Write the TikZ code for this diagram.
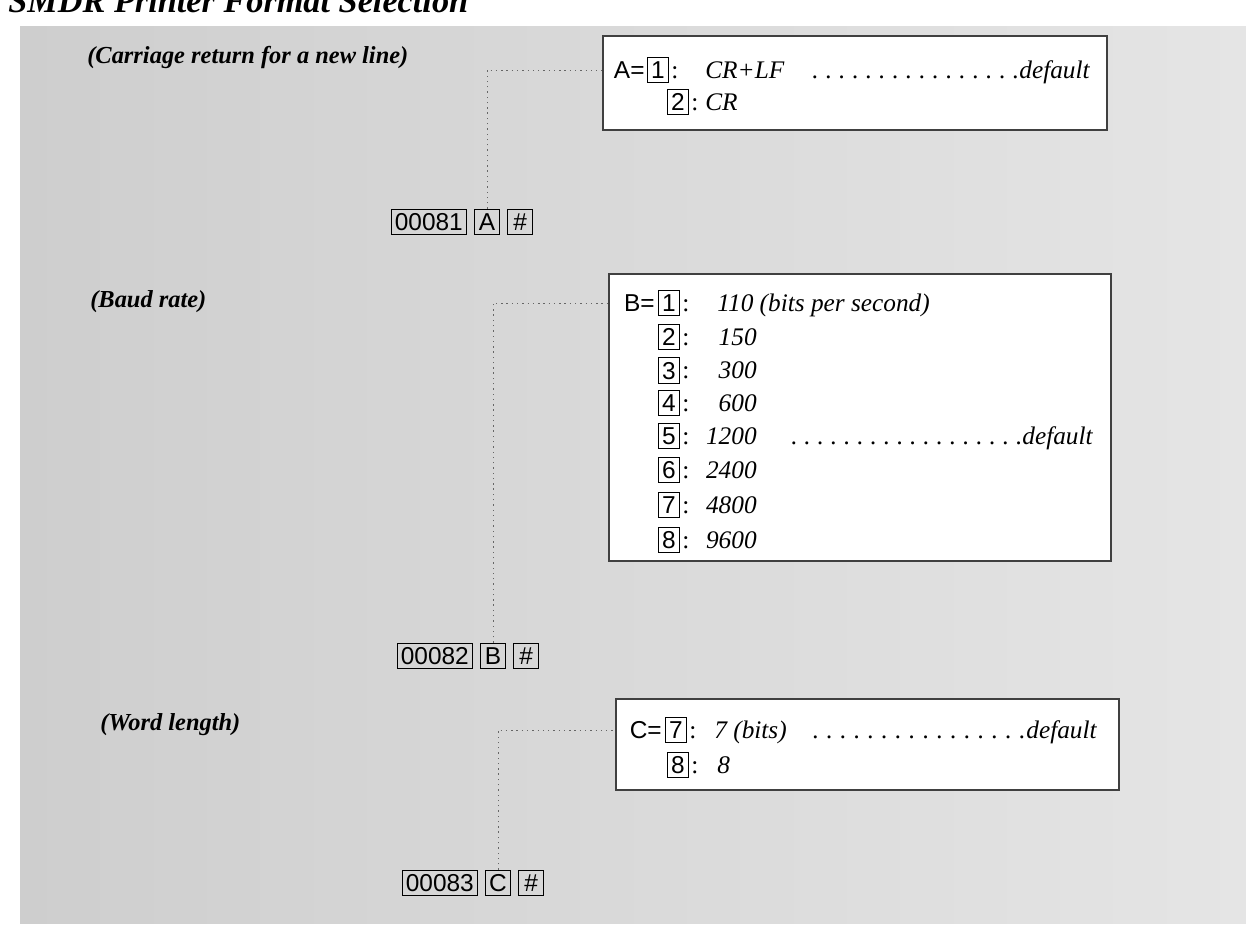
\documentclass[tikz,border=0pt]{standalone}
\usepackage{fontspec}
\setmainfont{Liberation Serif}
\setsansfont{Liberation Sans}
\usepackage{tikz}
\usetikzlibrary{positioning}
\definecolor{Paper}{RGB}{229, 229, 229}
\definecolor{PaperDark}{RGB}{206, 206, 206}
\newcommand{\dotrule}[1]{\makebox[#1]{\xleaders\hbox to 7.5pt{\hss.}\hfill}}

\begin{document}
\begin{tikzpicture}[
    heading/.style={anchor=base west, inner sep=0pt, font=\fontsize{13.9}{16}\selectfont\bfseries\itshape},
    optbox/.style={rectangle, draw=black!75, line width=0.6pt, fill=white},
    keybox/.style={rectangle, draw=black, line width=0.7pt, font=\sffamily\fontsize{13.9}{16}\selectfont, text height=10pt, text depth=0pt, inner xsep=2pt, inner ysep=2.2pt, minimum width=0.5cm},
    digit/.style={keybox, minimum width=0.43cm},
    letter/.style={inner sep=0pt, font=\sffamily\fontsize{13.9}{16}\selectfont, text height=10pt, text depth=0pt},
    val/.style={anchor=west, inner sep=0pt, text height=9.5pt, text depth=0pt, font=\fontsize{14.4}{17}\selectfont\itshape},
    colon/.style={val, font=\fontsize{14.4}{17}\selectfont},
    link/.style={draw=black!60, line width=0.5pt, dash pattern=on 0.8pt off 2.2pt}
]
    \useasboundingbox (0,0) rectangle (24.92,-18.68);
    % Page background and title
    \shade[left color=PaperDark, right color=Paper] (0.40,-0.54) rectangle (24.92,-18.46);
    \node[anchor=base west, inner sep=0pt, font=\fontsize{19.5}{22}\selectfont\bfseries\itshape] (title) at (0.16,-0.26) {SMDR Printer Format Selection};

    % Headings
    \node[heading] (capA) at (1.74,-1.28) {(Carriage return for a new line)};
    \node[heading] (capB) at (1.80,-6.14) {(Baud rate)};
    \node[heading] (capC) at (2.00,-14.60) {(Word length)};

    % Option boxes
    \node[optbox, minimum width=10.08cm, minimum height=1.88cm] (optA) at (17.10,-1.66) {};
    \node[optbox, minimum width=10.04cm, minimum height=5.74cm] (optB) at (17.20,-8.35) {};
    \node[optbox, minimum width=10.06cm, minimum height=1.82cm] (optC) at (17.35,-14.89) {};

    % Box A: carriage return
    \node[digit] (a1) at (13.16,-1.40) {1};
    \node[letter, left=1pt of a1] (eqA) {A=};
    \node[colon, right=1pt of a1] (a1col) {:};
    \node[val] (a1val) at (14.10,-1.40) {CR+LF};
    \node[val, anchor=east] (dfltA) at (21.80,-1.40) {\dotrule{4.28cm}default};
    \node[digit] (a2) at (13.56,-2.04) {2};
    \node[colon, right=1pt of a2] (a2col) {:};
    \node[val] (a2val) at (14.10,-2.04) {CR};

    % Box B: baud rate
    \node[digit] (b1) at (13.38,-6.06) {1};
    \node[letter, left=1.5pt of b1] (eqB) {B=};
    \node[colon, right=1pt of b1] (b1col) {:};
    \node[val] (b1val) at (14.34,-6.06) {110 (bits per second)};
    \node[digit] (b2) at (13.38,-6.74) {2};
    \node[colon, right=1pt of b2] (b2col) {:};
    \node[val, anchor=east] (b2val) at (15.14,-6.74) {150};
    \node[digit] (b3) at (13.38,-7.41) {3};
    \node[colon, right=1pt of b3] (b3col) {:};
    \node[val, anchor=east] (b3val) at (15.14,-7.41) {300};
    \node[digit] (b4) at (13.38,-8.06) {4};
    \node[colon, right=1pt of b4] (b4col) {:};
    \node[val, anchor=east] (b4val) at (15.14,-8.06) {600};
    \node[digit] (b5) at (13.38,-8.72) {5};
    \node[colon, right=1pt of b5] (b5col) {:};
    \node[val, anchor=east] (b5val) at (15.14,-8.72) {1200};
    \node[val, anchor=east] (dfltB) at (21.86,-8.72) {\dotrule{4.76cm}default};
    \node[digit] (b6) at (13.38,-9.40) {6};
    \node[colon, right=1pt of b6] (b6col) {:};
    \node[val, anchor=east] (b6val) at (15.14,-9.40) {2400};
    \node[digit] (b7) at (13.38,-10.10) {7};
    \node[colon, right=1pt of b7] (b7col) {:};
    \node[val, anchor=east] (b7val) at (15.14,-10.10) {4800};
    \node[digit] (b8) at (13.38,-10.80) {8};
    \node[colon, right=1pt of b8] (b8col) {:};
    \node[val, anchor=east] (b8val) at (15.14,-10.80) {9600};

    % Box C: word length
    \node[digit] (c7) at (13.52,-14.60) {7};
    \node[letter, left=1.5pt of c7] (eqC) {C=};
    \node[colon, right=1pt of c7] (c7col) {:};
    \node[val] (c7val) at (14.28,-14.60) {7 (bits)};
    \node[val, anchor=east] (dfltC) at (21.94,-14.60) {\dotrule{4.42cm}default};
    \node[digit] (c8) at (13.56,-15.30) {8};
    \node[colon, right=1pt of c8] (c8col) {:};
    \node[val] (c8val) at (14.34,-15.30) {8};

    % Key sequences
    \node[keybox] (keyA) at (9.74,-4.44) {A};
    \node[keybox, left=0.14cm of keyA] (numA) {00081};
    \node[keybox, right=0.14cm of keyA] (hashA) {\#};
    \node[keybox] (keyB) at (9.86,-13.12) {B};
    \node[keybox, left=0.14cm of keyB] (numB) {00082};
    \node[keybox, right=0.14cm of keyB] (hashB) {\#};
    \node[keybox] (keyC) at (9.96,-17.66) {C};
    \node[keybox, left=0.14cm of keyC] (numC) {00083};
    \node[keybox, right=0.14cm of keyC] (hashC) {\#};

    % Dotted links from key to option box
    \draw[link] (keyA.north) |- (optA.west |- a1.center);
    \draw[link] (keyB.north) |- (optB.west |- b1.center);
    \draw[link] (keyC.north) |- (optC.west |- c7.center);

\end{tikzpicture}
\end{document}
